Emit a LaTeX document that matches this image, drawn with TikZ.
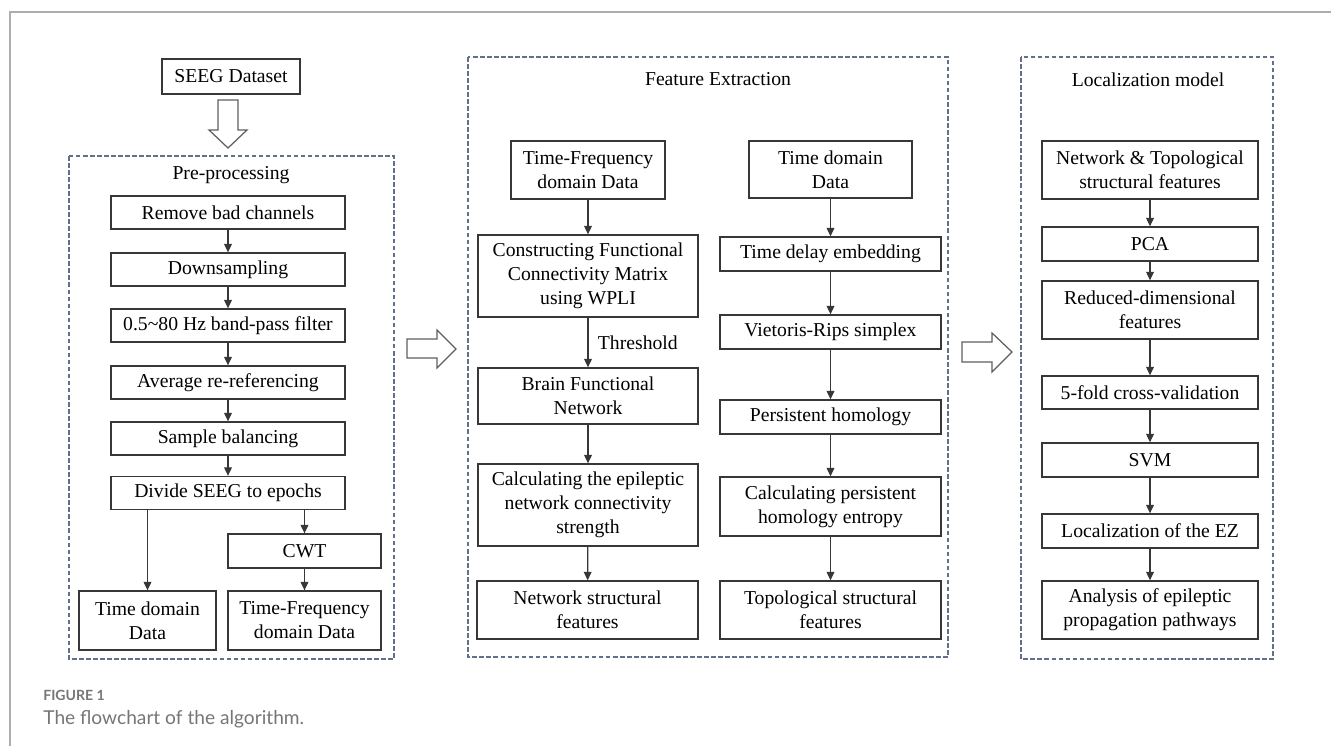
\documentclass[tikz,border=0pt]{standalone}
\usepackage{fontspec}
\setmainfont{Liberation Serif}
\newfontfamily\capfont{Lato}
\usetikzlibrary{arrows.meta}
\definecolor{boxline}{RGB}{55,55,55}
\definecolor{panelline}{RGB}{98,112,140}
\definecolor{capgray}{RGB}{118,118,118}
\tikzset{
  stepbox/.style 2 args={draw=boxline, line width=.75pt, align=center, inner sep=1pt,
    minimum width=#1*0.02cm, minimum height=#2*0.02cm},
  panel/.style={draw=panelline, line width=.6pt, dash pattern=on 2.6pt off 1.4pt},
  flow/.style={draw=boxline, line width=.65pt, -{Triangle[length=4.8pt,width=4.4pt]}},
  hollow/.style={draw=boxline!80, line width=.7pt, fill=white, line join=miter},
}
\begin{document}
\begin{tikzpicture}[x=0.02cm, y=-0.02cm, font=\fontsize{11.2}{13.6}\selectfont]
\useasboundingbox (0,0) rectangle (1331,746);
% figure frame
\draw[capgray!60, line width=.8pt] (10,746) -- (10,12) -- (1331,12);

% pre-processing
\node[stepbox={138}{35}] (seeg) at (231,76.5) {SEEG Dataset};
\draw[hollow] (218,100) -- (238,100) -- (238,130) -- (247,130) -- (228,148) -- (209,130) -- (218,130) -- cycle;
\draw[panel] (69,156) rectangle (394,659);
\node (pretitle) at (231,175) {Pre-processing};
\foreach \n/\y/\t in {rm/212.5/Remove bad channels, ds/269.5/Downsampling,
    bp/325.5/0.5\textasciitilde80 Hz band-pass filter, ar/382.5/Average re-referencing,
    sb/438.5/Sample balancing, div/493/Divide SEEG to epochs}
  \node[stepbox={234}{33}] (\n) at (228,\y) {\t};
\foreach \a/\b in {rm/ds, ds/bp, bp/ar, ar/sb, sb/div}
  \draw[flow] (\a) -- (\b);
\node[stepbox={153}{34}] (cwt) at (304.5,551) {CWT};
\node[stepbox={137}{59}] (tdd) at (147.5,620.5) {Time domain\\Data};
\node[stepbox={153}{59}] (tfd) at (304.5,620.5) {Time-Frequency\\domain Data};
\draw[flow] (div.south -| tdd.north) -- (tdd.north);
\draw[flow] (div.south -| cwt.north) -- (cwt.north);
\draw[flow] (cwt) -- (tfd);

\draw[hollow] (407,339) -- (437,339) -- (437,330) -- (456,349) -- (437,368) -- (437,358) -- (407,358) -- cycle;

% feature extraction
\draw[panel] (468,57) rectangle (948,657);
\node (fetitle) at (718,79) {Feature Extraction};
\node[stepbox={154}{58}] (tf2) at (588,170) {Time-Frequency\\domain Data};
\node[stepbox={220}{82}] (fcm) at (588,276) {Constructing Functional\\Connectivity Matrix\\using WPLI};
\node[stepbox={220}{56}] (bfn) at (588,396) {Brain Functional\\Network};
\node[stepbox={220}{82}] (cal) at (588,505) {Calculating the epileptic\\network connectivity\\strength};
\node[stepbox={221}{58}] (nsf) at (587.5,610) {Network structural\\features};
\draw[flow] (tf2) -- (fcm);
\draw[flow] (fcm) -- node[right=2pt] (thr) {Threshold} (bfn);
\draw[flow] (bfn) -- (cal);
\draw[flow] (cal) -- (nsf);

\node[stepbox={163}{57}] (td2) at (830.5,169.5) {Time domain\\Data};
\node[stepbox={221}{34}] (tde) at (830.5,254) {Time delay embedding};
\node[stepbox={221}{34}] (vr) at (830.5,332) {Vietoris-Rips simplex};
\node[stepbox={221}{34}] (ph) at (830.5,417) {Persistent homology};
\node[stepbox={221}{59}] (cph) at (830.5,506.5) {Calculating persistent\\homology entropy};
\node[stepbox={221}{58}] (tsf) at (830.5,610) {Topological structural\\features};
\foreach \a/\b in {td2/tde, tde/vr, vr/ph, ph/cph, cph/tsf}
  \draw[flow] (\a) -- (\b);

\draw[hollow] (962,342) -- (992,342) -- (992,333) -- (1012,352) -- (992,372) -- (992,362) -- (962,362) -- cycle;

% localization model
\draw[panel] (1021,57) rectangle (1273,659);
\node (lmtitle) at (1148,80) {Localization model};
\node[stepbox={216}{58}] (nt) at (1150,170) {Network \& Topological\\structural features};
\node[stepbox={216}{34}] (pca) at (1150,244) {PCA};
\node[stepbox={216}{58}] (rdf) at (1150,310) {Reduced-dimensional\\features};
\node[stepbox={216}{33}] (cv) at (1150,392.5) {5-fold cross-validation};
\node[stepbox={216}{34}] (svm) at (1150,460) {SVM};
\node[stepbox={216}{34}] (ez) at (1150,531) {Localization of the EZ};
\node[stepbox={216}{58}] (ana) at (1150,610) {Analysis of epileptic\\propagation pathways};
\foreach \a/\b in {nt/pca, pca/rdf, rdf/cv, cv/svm, svm/ez, ez/ana}
  \draw[flow] (\a) -- (\b);

% caption
\node[anchor=base west, inner sep=0, text=capgray, font=\capfont\bfseries\fontsize{8}{9}\selectfont] (fignum) at (43,700) {FIGURE 1};
\node[anchor=base west, inner sep=0, text=capgray, font=\capfont\fontsize{10.9}{12}\selectfont] (figcap) at (43,724) {The flowchart of the algorithm.};
\end{tikzpicture}
\end{document}
